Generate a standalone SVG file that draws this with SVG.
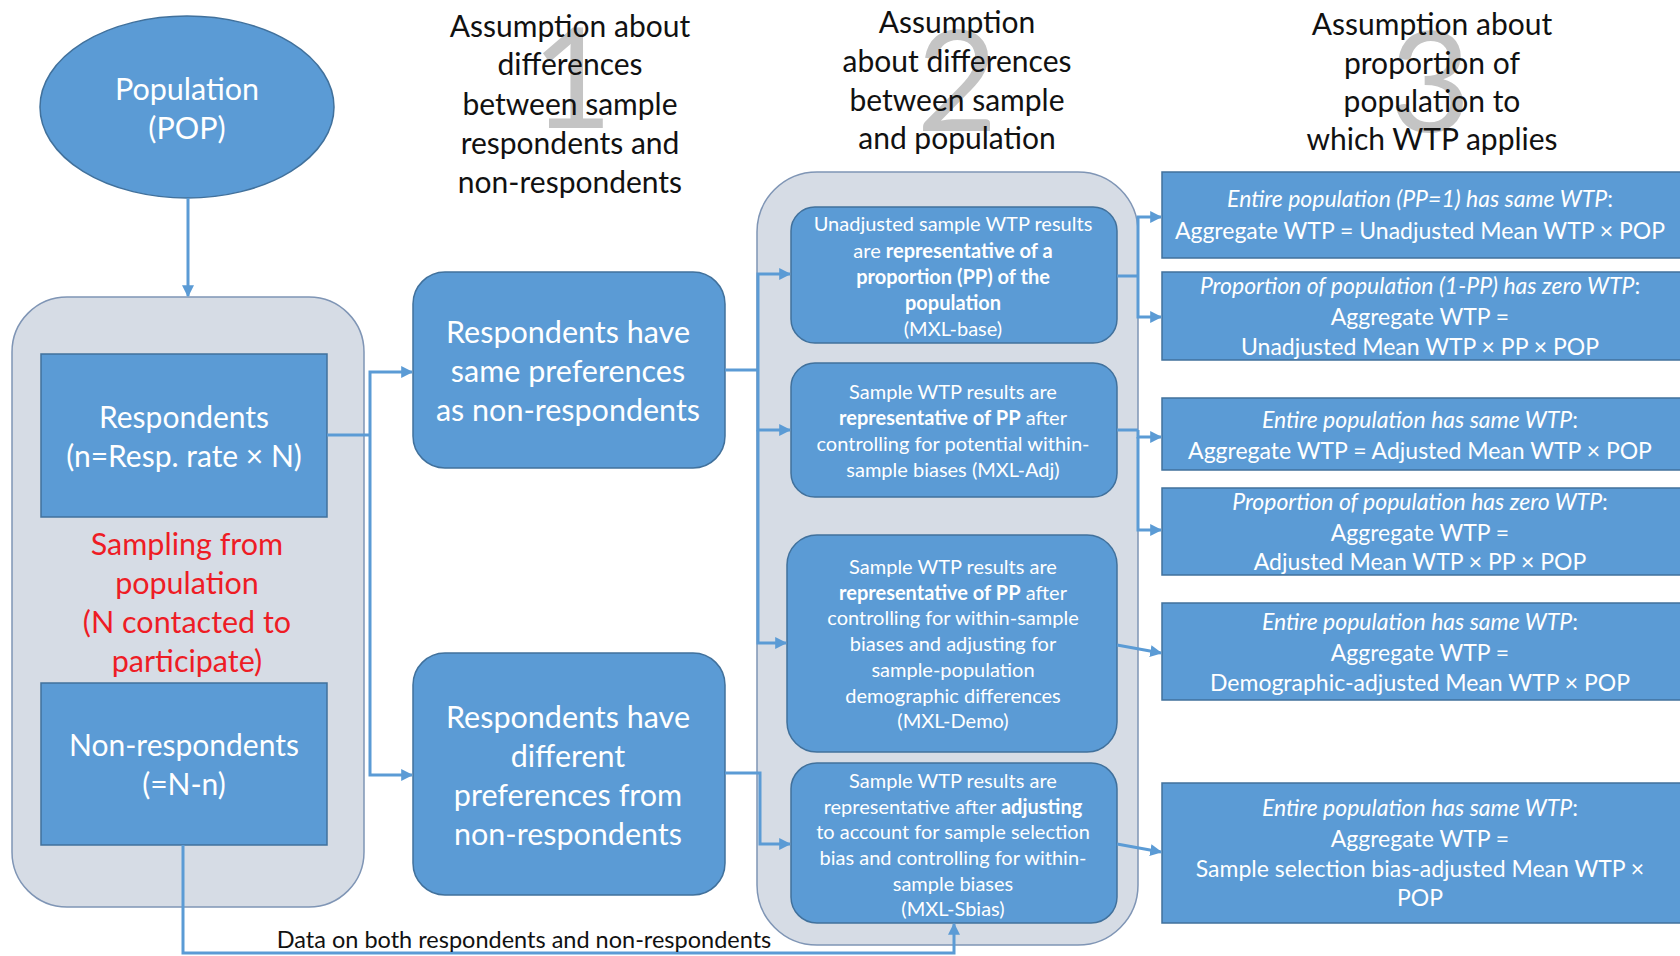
<svg xmlns="http://www.w3.org/2000/svg" width="1680" height="956" viewBox="0 0 1680 956">
<defs>
<marker id="ah" viewBox="0 0 10 10" refX="9" refY="5" markerWidth="4" markerHeight="4" orient="auto" markerUnits="strokeWidth">
<path d="M0,0 L10,5 L0,10 z" fill="#5b9bd5"/>
</marker>
<style>
text{font-family:Lato,"Liberation Sans",sans-serif;}
.w{fill:#ffffff;text-anchor:middle;dominant-baseline:central;}
.h{fill:#111111;text-anchor:middle;dominant-baseline:central;font-size:30px;}
.big{fill:#c4c4c4;text-anchor:middle;font-size:140px;}
.box{fill:#5b9bd5;stroke:#41719c;stroke-width:1.5;}
.cont{fill:#d6dce5;stroke:#7f95b5;stroke-width:1.5;}
.red{fill:#ee1c25;text-anchor:middle;dominant-baseline:central;font-size:30.5px;}
.c{fill:none;stroke:#5b9bd5;stroke-width:3;}
.a{marker-end:url(#ah);}
.it{font-style:italic;}
.b{font-weight:bold;}
</style>
</defs>

<g id="headers">
<text class="big" x="572" y="128">1</text>
<text class="h" x="570" y="25">Assumption about</text>
<text class="h" x="570" y="63">differences</text>
<text class="h" x="570" y="103">between sample</text>
<text class="h" x="570" y="142">respondents and</text>
<text class="h" x="570" y="181">non-respondents</text>
<text class="big" x="957" y="131">2</text>
<text class="h" x="957" y="21">Assumption</text>
<text class="h" x="957" y="60">about differences</text>
<text class="h" x="957" y="99">between sample</text>
<text class="h" x="957" y="137">and population</text>
<text class="big" x="1430" y="132">3</text>
<text class="h" x="1432" y="23">Assumption about</text>
<text class="h" x="1432" y="62">proportion of</text>
<text class="h" x="1432" y="100">population to</text>
<text class="h" x="1432" y="138">which WTP applies</text>
</g>

<g id="population">
<ellipse class="box" cx="187" cy="107" rx="147" ry="91"/>
<text class="w" x="187" y="88" font-size="30.5">Population</text>
<text class="w" x="187" y="127" font-size="30.5">(POP)</text>
</g>

<g id="sampling">
<rect class="cont" x="12" y="297" width="352" height="610" rx="55"/>
<text class="red" x="187" y="543">Sampling from</text>
<text class="red" x="187" y="582">population</text>
<text class="red" x="187" y="621">(N contacted to</text>
<text class="red" x="187" y="660">participate)</text>
</g>

<g id="respondents">
<rect class="box" x="41" y="354" width="286" height="163"/>
<text class="w" x="184" y="416" font-size="30">Respondents</text>
<text class="w" x="184" y="455" font-size="30">(n=Resp. rate × N)</text>
</g>

<g id="nonrespondents">
<rect class="box" x="41" y="683" width="286" height="162"/>
<text class="w" x="184" y="744" font-size="30">Non-respondents</text>
<text class="w" x="184" y="783" font-size="30">(=N-n)</text>
</g>

<g id="same-pref">
<rect class="box" x="413" y="272" width="312" height="196" rx="32"/>
<text class="w" x="568" y="331" font-size="30.5">Respondents have</text>
<text class="w" x="568" y="370" font-size="30.5">same preferences</text>
<text class="w" x="568" y="409" font-size="30.5">as non-respondents</text>
</g>

<g id="diff-pref">
<rect class="box" x="413" y="653" width="312" height="242" rx="32"/>
<text class="w" x="568" y="716" font-size="30.5">Respondents have</text>
<text class="w" x="568" y="755" font-size="30.5">different</text>
<text class="w" x="568" y="794" font-size="30.5">preferences from</text>
<text class="w" x="568" y="833" font-size="30.5">non-respondents</text>
</g>

<g id="model-container">
<rect class="cont" x="757" y="172" width="381" height="773" rx="60"/>
</g>

<g id="mxl-base">
<rect class="box" x="791" y="207" width="326" height="136" rx="24"/>
<text class="w" x="953" y="223" font-size="20">Unadjusted sample WTP results</text>
<text class="w" x="953" y="250" font-size="20">are <tspan class="b">representative of a</tspan></text>
<text class="w b" x="953" y="276" font-size="20">proportion (PP) of the</text>
<text class="w b" x="953" y="302" font-size="20">population</text>
<text class="w" x="953" y="328" font-size="20">(MXL-base)</text>
</g>

<g id="mxl-adj">
<rect class="box" x="791" y="363" width="326" height="134" rx="24"/>
<text class="w" x="953" y="391" font-size="20">Sample WTP results are</text>
<text class="w" x="953" y="417" font-size="20"><tspan class="b">representative of PP</tspan> after</text>
<text class="w" x="953" y="443" font-size="20">controlling for potential within-</text>
<text class="w" x="953" y="469" font-size="20">sample biases (MXL-Adj)</text>
</g>

<g id="mxl-demo">
<rect class="box" x="787" y="535" width="330" height="217" rx="30"/>
<text class="w" x="953" y="566" font-size="20">Sample WTP results are</text>
<text class="w" x="953" y="592" font-size="20"><tspan class="b">representative of PP</tspan> after</text>
<text class="w" x="953" y="617" font-size="20">controlling for within-sample</text>
<text class="w" x="953" y="643" font-size="20">biases and adjusting for</text>
<text class="w" x="953" y="669" font-size="20">sample-population</text>
<text class="w" x="953" y="695" font-size="20">demographic differences</text>
<text class="w" x="953" y="720" font-size="20">(MXL-Demo)</text>
</g>

<g id="mxl-sbias">
<rect class="box" x="791" y="763" width="326" height="160" rx="26"/>
<text class="w" x="953" y="780" font-size="20">Sample WTP results are</text>
<text class="w" x="953" y="806" font-size="20">representative after <tspan class="b">adjusting</tspan></text>
<text class="w" x="953" y="831" font-size="20">to account for sample selection</text>
<text class="w" x="953" y="857" font-size="20">bias and controlling for within-</text>
<text class="w" x="953" y="883" font-size="20">sample biases</text>
<text class="w" x="953" y="908" font-size="20">(MXL-Sbias)</text>
</g>

<g id="r1">
<rect class="box" x="1162" y="172" width="530" height="86"/>
<text class="w" x="1420" y="198" font-size="23"><tspan class="it">Entire population (PP=1) has same WTP</tspan>:</text>
<text class="w" x="1420" y="230" font-size="23">Aggregate WTP = Unadjusted Mean WTP × POP</text>
</g>
<g id="r2">
<rect class="box" x="1162" y="272" width="530" height="88"/>
<text class="w" x="1420" y="285" font-size="23"><tspan class="it">Proportion of population (1-PP) has zero WTP</tspan>:</text>
<text class="w" x="1420" y="316" font-size="23">Aggregate WTP =</text>
<text class="w" x="1420" y="346" font-size="23">Unadjusted Mean WTP × PP × POP</text>
</g>
<g id="r3">
<rect class="box" x="1162" y="398" width="530" height="72"/>
<text class="w" x="1420" y="419" font-size="23"><tspan class="it">Entire population has same WTP</tspan>:</text>
<text class="w" x="1420" y="450" font-size="23">Aggregate WTP = Adjusted Mean WTP × POP</text>
</g>
<g id="r4">
<rect class="box" x="1162" y="488" width="530" height="87"/>
<text class="w" x="1420" y="501" font-size="23"><tspan class="it">Proportion of population has zero WTP</tspan>:</text>
<text class="w" x="1420" y="532" font-size="23">Aggregate WTP =</text>
<text class="w" x="1420" y="561" font-size="23">Adjusted Mean WTP × PP × POP</text>
</g>
<g id="r5">
<rect class="box" x="1162" y="603" width="530" height="97"/>
<text class="w" x="1420" y="621" font-size="23"><tspan class="it">Entire population has same WTP</tspan>:</text>
<text class="w" x="1420" y="652" font-size="23">Aggregate WTP =</text>
<text class="w" x="1420" y="682" font-size="23">Demographic-adjusted Mean WTP × POP</text>
</g>
<g id="r6">
<rect class="box" x="1162" y="783" width="530" height="140"/>
<text class="w" x="1420" y="807" font-size="23"><tspan class="it">Entire population has same WTP</tspan>:</text>
<text class="w" x="1420" y="838" font-size="23">Aggregate WTP =</text>
<text class="w" x="1420" y="868" font-size="23">Sample selection bias-adjusted Mean WTP ×</text>
<text class="w" x="1420" y="897" font-size="23">POP</text>
</g>

<g id="connectors">
<path class="c a" d="M188,198 V296"/>
<path class="c" d="M327,435 H370"/>
<path class="c a" d="M370,435 V372 H412"/>
<path class="c a" d="M370,435 V775 H412"/>
<path class="c" d="M725,370 H758"/>
<path class="c a" d="M758,370 V274 H790"/>
<path class="c a" d="M758,370 V430 H790"/>
<path class="c a" d="M758,430 V643 H786"/>
<path class="c a" d="M725,773 H760 V844 H790"/>
<path class="c" d="M1117,276 H1138"/>
<path class="c a" d="M1138,276 V217 H1161"/>
<path class="c a" d="M1138,276 V317 H1161"/>
<path class="c" d="M1117,430 H1138"/>
<path class="c a" d="M1138,430 V437 H1161"/>
<path class="c a" d="M1138,437 V530 H1161"/>
<path class="c a" d="M1117,645 L1161,653"/>
<path class="c a" d="M1117,844 L1161,852"/>
<path class="c a" d="M183,845 V953 H954 V924"/>
<text x="524" y="948" font-size="23.5" fill="#111111" text-anchor="middle">Data on both respondents and non-respondents</text>
</g>
</svg>
